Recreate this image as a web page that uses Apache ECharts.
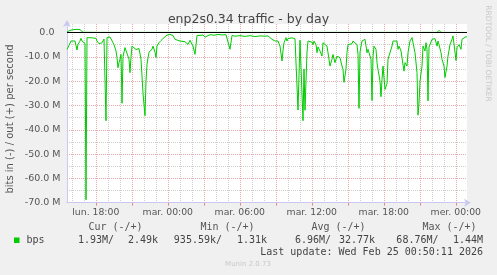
<!DOCTYPE html>
<html>
<head>
<meta charset="utf-8">
<script src="https://cdn.jsdelivr.net/npm/echarts@6/dist/echarts.min.js"></script>
<style>
html,body{margin:0;padding:0;background:#f0f0f0;}
#chart{width:497px;height:275px;}
</style>
</head>
<body>
<div id="chart"></div>
<script>
// time in minutes since Monday 00:00, 5-minute samples
const times = [936,946,956,961,976,986,991,1001,1006,1011,1021,1026,1031,1036,1046,1061,1081,1086,1096,1106,1111,1121,1126,1131,1136,1151,1161,1171,1181,1186,1191,1196,1201,1206,1211,1216,1226,1236,1246,1251,1256,1261,1271,1281,1286,1296,1306,1311,1316,1326,1331,1336,1346,1356,1361,1366,1376,1381,1386,1396,1406,1411,1421,1431,1436,1451,1466,1476,1486,1501,1511,1526,1536,1541,1551,1561,1566,1576,1586,1601,1616,1626,1636,1651,1671,1691,1711,1731,1741,1751,1761,1776,1801,1826,1851,1876,1901,1926,1941,1951,1961,1966,1976,1986,1991,2001,2011,2016,2021,2031,2036,2041,2051,2061,2076,2086,2091,2101,2106,2116,2121,2126,2136,2141,2151,2161,2166,2171,2181,2186,2191,2201,2211,2216,2226,2236,2241,2251,2261,2266,2276,2286,2291,2301,2311,2316,2321,2331,2336,2341,2351,2361,2366,2376,2386,2391,2396,2401,2411,2416,2426,2436,2441,2446,2456,2461,2466,2471,2481,2486,2491,2501,2506,2511,2516,2526,2536,2541,2551,2561,2566,2576,2586,2591,2596,2606,2611,2621,2626,2636,2641,2651,2661,2666,2676,2686,2691,2696,2701,2711,2716,2726,2731,2736,2741,2746,2761,2766,2776,2786,2791,2796,2806,2811,2821,2826,2836,2841,2851,2861,2866,2876,2881,2886,2896,2906,2911,2921,2931,2936];
// bits in, drawn negative (millions)
const inNeg = [-6.9,-5.3,-3.5,-2.8,-3.5,-7.2,-4.9,-3.5,-2.4,-3.5,-4.2,-4.5,-68.8,-2.1,-1.8,-2.2,-2.4,-3.5,-4.6,-5,-4.2,-2.7,-3.0,-36.3,-2.1,-1.8,-2.6,-5,-7.6,-10.4,-14.5,-12.4,-11,-9,-29.1,-10,-6.2,-6.9,-11,-16.5,-10,-5.6,-5.6,-7,-6.2,-6.6,-11,-17.9,-25,-34.2,-20,-13,-8.1,-7.5,-6.9,-5.6,-8.1,-10.3,-5.6,-4.2,-3.3,-2.9,-2.1,-1.7,-1.1,-0.8,-1.2,-2.8,-3.5,-3.5,-3.8,-3.8,-3.5,-4.9,-3.2,-3.5,-5.6,-9.0,-1.2,-1.2,-1.0,-1.9,-1.5,-0.9,-1.1,-0.8,-1.0,-0.9,-1.2,-6.9,-1.2,-1.5,-1.3,-1.6,-1.3,-1.7,-1.4,-1.5,-1.4,-2.1,-2.8,-2.5,-3.5,-2.8,-3.5,-5.6,-11.7,-7.5,-4.2,-2.1,-3.5,-2.5,-2.8,-2.2,-2.6,-2.4,-31.9,-3.2,-4,-36.3,-15,-32,-8,-3.5,-3.5,-4.0,-5,-3.5,-5,-8.3,-5.9,-7.6,-9.7,-4.2,-4,-5.6,-8.3,-13.8,-11,-9,-12.4,-9.7,-9,-10.4,-13.8,-15.2,-20.5,-15,-8.3,-5,-5.3,-4.6,-3.5,-4,-5,-9,-31.2,-8,-3.5,-2.8,-2.8,-8.3,-6.9,-8.3,-11,-28,-10,-5.6,-6.9,-12.4,-15.2,-20,-26.4,-19.3,-13.8,-23.4,-21,-11,-10.4,-5.6,-3.5,-2.8,-3.5,-6.9,-5.6,-7.6,-10.4,-15.9,-12.4,-13.8,-8.3,-3.5,-2.1,-2.8,-8.3,-16.5,-34,-29,-20,-13.8,-5.6,-7.6,-4.2,-6.9,-28.1,-6,-2.8,-3.5,-2.5,-5.6,-3.5,-5,-8.3,-11,-13.8,-18.5,-13.8,-9.7,-5,-2.8,-1.4,-2.1,-11.5,-6.2,-5,-6.9,-2.8,-2.1,-1.7,-1.9];
// bits out (millions)
const outTimes = [936,951,961,971,986,1001,1011,1016,1100,1361,1371,1381,1700,2081,2091,2101,2700,2786,2796,2806,2936];
const outPos = [0.2,0.9,1.1,1.2,1.3,1.2,1.0,0.1,0.05,0.05,0.4,0.05,0.05,0.05,0.4,0.05,0.05,0.05,0.9,0.05,0.02];

const hourTicks = [960,1020,1080,1140,1200,1260,1320,1380,1440,1500,1560,1620,1680,1740,1800,1860,1920,1980,2040,2100,2160,2220,2280,2340,2400,2460,2520,2580,2640,2700,2760,2820,2880];
const majorTicks = [1080,1260,1440,1620,1800,1980,2160,2340,2520,2700,2880];
const xLabelValues = [1080,1440,1800,2160,2520,2880];
const dayNames = ['lun.','mar.','mer.'];
const yMinorValues = [-70,-65,-60,-55,-50,-45,-40,-35,-30,-25,-20,-15,-10,-5,0];
const yMajorValues = [-70,-60,-50,-40,-30,-20,-10];
const yLabelValues = [-70,-60,-50,-40,-30,-20,-10,0];

const title = 'enp2s0.34 traffic - by day';
const yName = 'bits in (-) / out (+) per second';
const legendHeads = ['Cur (-/+)','Min (-/+)','Avg (-/+)','Max (-/+)'];
const legendVals = ['1.93M/','2.49k','935.59k/','1.31k','6.96M/','32.77k','68.76M/','1.44M'];

const RED = '#e8a8a8', GREY = '#cfcfcf', AXIS = '#c8c8f0', GREEN = '#00cc00';
const mono = '10px "DejaVu Sans Mono"';
const DOT = [1,1];

const chart = echarts.init(document.getElementById('chart'), null, {renderer:'canvas'});
const inData = times.map((t,i)=>[t,inNeg[i]]);
const outData = outTimes.map((t,i)=>[t,outPos[i]]);

const headX = [115.5,227.5,338.5,449.5];
const valX = [114,158,222,267,331,375,438.5,483];

const txt = (x,y,text,font,fill,align,rot)=>({type:'text', x, y, rotation:rot||0,
  style:{text, fill, font, textAlign:align, textVerticalAlign:'middle', align, verticalAlign:'middle'}});

const graphics = [
  txt(248.5,19.5,title,'12.5px "DejaVu Sans"','#444','center'),
  txt(10,119,yName,'10px "DejaVu Sans"','#555','center',Math.PI/2),
  txt(487.5,53.5,'RRDTOOL / TOBI OETIKER','7.5px "DejaVu Sans"','#c8c8c8','center',-Math.PI/2),
  {type:'rect', shape:{x:14, y:237.5, width:5.5, height:5.5}, style:{fill:GREEN}},
  txt(26.5,240,'bps',mono,'#444','left'),
  txt(483,252,'Last update: Wed Feb 25 00:50:11 2026',mono,'#444','right'),
  txt(248,264,'Munin 2.0.73','7px "DejaVu Sans"','#c8c8c8','center')
];
legendHeads.forEach((h,i)=>graphics.push(txt(headX[i],227.5,h,mono,'#555','center')));
legendVals.forEach((v,i)=>graphics.push(txt(valX[i],240,v,mono,'#444','right')));

chart.setOption({
  backgroundColor:'#f0f0f0',
  animation:false,
  grid:{left:67, right:30, top:24, bottom:72.3, show:true, backgroundColor:'#ffffff', borderWidth:0, containLabel:false},
  xAxis:[{
    type:'value', min:936, max:2936, position:'bottom',
    axisLine:{show:false, onZero:false},
    axisTick:{show:false, customValues:hourTicks},
    splitLine:{show:true, lineStyle:{color:GREY, type:DOT, width:1}},
    axisLabel:{show:false}
  },{
    type:'value', min:936, max:2936, position:'bottom', offset:0,
    axisLine:{show:true, onZero:false, lineStyle:{color:AXIS, width:1}, symbol:['none','arrow'], symbolSize:[6,7], symbolOffset:[0,4]},
    axisTick:{show:true, customValues:majorTicks, length:3, inside:false, lineStyle:{color:'#e08c8c'}},
    splitLine:{show:true, lineStyle:{color:RED, type:DOT, width:1}},
    axisLabel:{customValues:xLabelValues, margin:5, color:'#555', fontFamily:'DejaVu Sans', fontSize:9.3,
      formatter:v=>dayNames[Math.floor(v/1440)]+' '+String(Math.floor((v%1440)/60)).padStart(2,'0')+':00'}
  }],
  yAxis:[{
    type:'value', min:-70, max:3.5, position:'left',
    axisLine:{show:false, onZero:false},
    axisTick:{show:false, customValues:yMinorValues},
    splitLine:{show:true, lineStyle:{color:GREY, type:DOT, width:1}},
    axisLabel:{show:false}
  },{
    type:'value', min:-70, max:3.5, position:'left', offset:0,
    axisLine:{show:true, onZero:false, lineStyle:{color:AXIS, width:1}, symbol:['none','arrow'], symbolSize:[6,7], symbolOffset:[0,4]},
    axisTick:{show:false, customValues:yMajorValues},
    splitLine:{show:true, lineStyle:{color:RED, type:DOT, width:1}},
    axisLabel:{customValues:yLabelValues, margin:6.5, color:'#555', fontFamily:'DejaVu Sans', fontSize:9.5,
      formatter:v=>v===0?'0.0  ':v.toFixed(1)+' M'}
  }],
  graphic:graphics,
  series:[{
    type:'line', data:outData, xAxisIndex:0, yAxisIndex:0, showSymbol:false, symbol:'none',
    lineStyle:{color:GREEN, width:1}, z:3, silent:true
  },{
    type:'line', data:[], xAxisIndex:0, yAxisIndex:0, z:4, silent:true,
    markLine:{silent:true, symbol:'none', label:{show:false}, lineStyle:{color:'#000', type:'solid', width:1}, data:[{yAxis:0}]}
  },{
    type:'line', data:inData, xAxisIndex:0, yAxisIndex:0, showSymbol:false, symbol:'none',
    lineStyle:{color:GREEN, width:1}, z:5, silent:true
  }]
});
</script>
</body>
</html>
